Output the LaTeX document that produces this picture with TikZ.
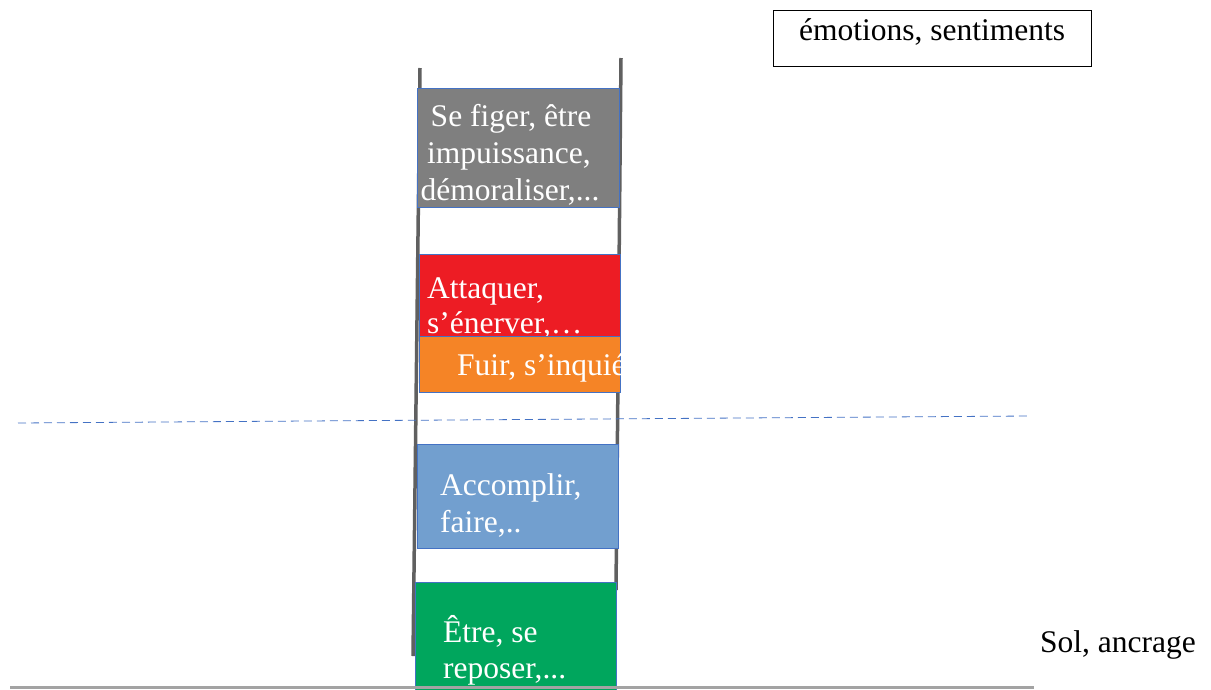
\documentclass[tikz,border=0pt]{standalone}
\usepackage{fontspec}
\setmainfont{Liberation Serif}
\definecolor{railgray}{HTML}{606060}
\definecolor{groundgray}{HTML}{A3A3A3}
\definecolor{boxblue}{HTML}{4472C4}
\definecolor{rgray}{HTML}{7F7F7F}
\definecolor{rred}{HTML}{ED1C24}
\definecolor{rorange}{HTML}{F58426}
\definecolor{rblue}{HTML}{729FCF}
\definecolor{rgreen}{HTML}{00A65D}
\begin{document}
\begin{tikzpicture}[x=1pt,y=-1pt,
  rung/.style={draw=boxblue, line width=0.8pt, rectangle, inner sep=0pt, anchor=north west},
  wtxt/.style={text=white, font=\fontsize{31.5}{37}\selectfont, inner sep=0pt},
  btxt/.style={text=black, font=\fontsize{31.5}{37}\selectfont, inner sep=0pt},
  rail/.style={draw=railgray, line width=3.5pt},
  ground/.style={draw=groundgray, line width=3pt},
  level/.style={draw=boxblue, line width=0.8pt, dash pattern=on 8pt off 5pt}]
\useasboundingbox (0,0) rectangle (1211,689);
% ladder rails
\coordinate (ltop) at (420,68);
\coordinate (lbot) at (413,656);
\coordinate (rtop) at (621,58);
\coordinate (rbot) at (616,590);
\draw[rail] (ltop) -- (lbot);
\draw[rail] (rtop) -- (rbot);
% rungs
\node[rung, fill=rgray, minimum width=202pt, minimum height=119pt] (grayrung) at (417,88) {};
\node[rung, fill=rred, minimum width=201pt, minimum height=83pt] (redrung) at (419,254) {};
\node[wtxt, anchor=base west] (red1) at (427,298) {Attaquer,};
\node[wtxt, anchor=base west] (red2) at (427,333) {s’énerver,…};
\node[rung, fill=rorange, minimum width=201pt, minimum height=56pt] (orangerung) at (419,336) {};
\begin{scope}
\clip (419,336) rectangle (620,392);
\node[wtxt, anchor=base west] (orange1) at (457,375) {Fuir, s’inquié};
\end{scope}
\node[rung, fill=rblue, minimum width=201pt, minimum height=104pt] (bluerung) at (417,444) {};
\node[rung, fill=rgreen, minimum width=201pt, minimum height=110pt] (greenrung) at (415,582) {};
% texts
\node[wtxt, anchor=base] (gray1) at (511,126) {Se figer, être};
\node[wtxt, anchor=base] (gray2) at (509,163) {impuissance,};
\node[wtxt, anchor=base] (gray3) at (510,200) {démoraliser,...};
\node[wtxt, anchor=base west] (blue1) at (440,495) {Accomplir,};
\node[wtxt, anchor=base west] (blue2) at (440,532) {faire,..};
\node[wtxt, anchor=base west] (green1) at (443,642) {Être, se};
\node[wtxt, anchor=base west] (green2) at (443,678) {reposer,...};
% dashed level line
\coordinate (dl) at (18,423);
\coordinate (dr) at (1028,416);
\draw[level] (dl) -- (dr);
% ground
\coordinate (gl) at (10,687);
\coordinate (gr) at (1034,687);
\draw[ground] (gl) -- (gr);
\node[btxt, anchor=base west] (sol) at (1040,652) {Sol, ancrage};
% legend box
\node[draw=black, line width=0.8pt, rectangle, anchor=north west, minimum width=318pt, minimum height=56pt, inner sep=0pt] (legendbox) at (773,10) {};
\node[btxt, anchor=base] (legend) at (932,40) {émotions, sentiments};
\end{tikzpicture}
\end{document}
